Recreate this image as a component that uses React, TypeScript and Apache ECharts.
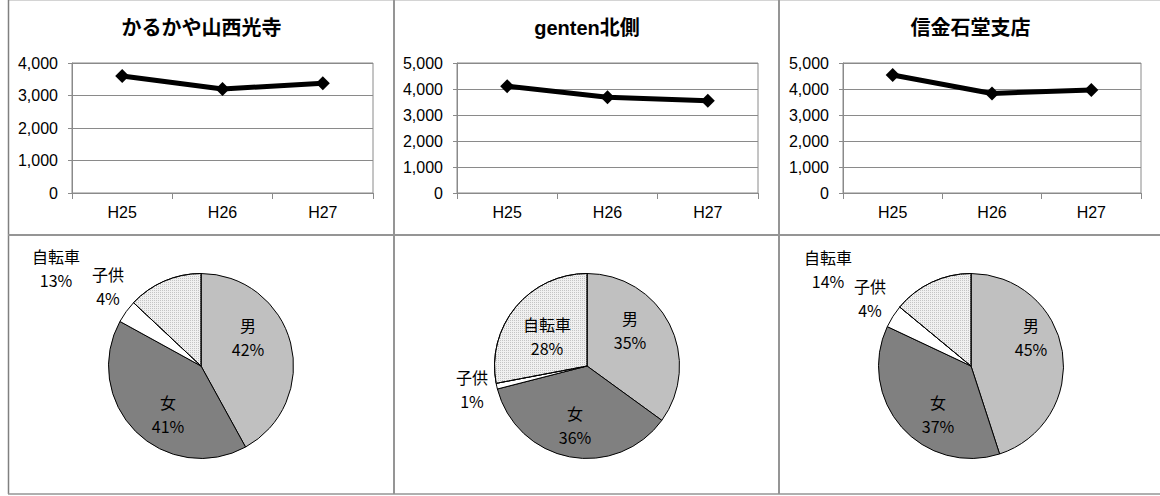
import React, { useEffect, useRef } from "react";
import * as echarts from "echarts";

const years = ["H25", "H26", "H27"];
const titles = ["かるかや山西光寺", "genten北側", "信金石堂支店"];
const countsA = [3600, 3200, 3380];
const countsB = [4110, 3680, 3550];
const countsC = [4540, 3830, 3960];
const yMax = [4000, 5000, 5000];
const pieNames = ["男", "女", "子供", "自転車"];
const shareA = [42, 41, 4, 13];
const shareB = [35, 36, 1, 28];
const shareC = [45, 37, 4, 14];

// layout (pixels)
const grids = [
  { left: 72, top: 63, width: 301, height: 130 },
  { left: 457, top: 63, width: 301, height: 130 },
  { left: 843, top: 63, width: 298, height: 130 },
];
const titleX = [201.5, 587, 970.5];
const pieCenters = [
  [201, 366],
  [587, 366],
  [971, 366],
];
const pieRadius = 92.5;
const labelOffsets = [
  [[47, -29], [-33, 48], [-93, -80], [-145, -98]],
  [[43, -36], [-12, 59], [-115, 23], [-40, -30]],
  [[60, -29], [-33, 48], [-101, -68], [-143, -97]],
];

const LATIN = "'Liberation Sans', Arial, 'Noto Sans CJK JP', sans-serif";
const CJK = "'Noto Sans CJK JP', sans-serif";
const GRID_GREY = "#8a8a8a";
const sliceColors = ["#c0c0c0", "#808080", "#ffffff", "#f0f0f0"];

export default function App() {
  const ref = useRef<HTMLDivElement>(null);
  useEffect(() => {
    if (!ref.current) return;
    const chart = echarts.init(ref.current, undefined, { renderer: "svg" });
    const counts = [countsA, countsB, countsC];
    const shares = [shareA, shareB, shareC];

    const xAxis = grids.map((_, i) => ({
      type: "category",
      gridIndex: i,
      data: years,
      boundaryGap: true,
      axisLine: { show: true, lineStyle: { color: GRID_GREY, width: 1 } },
      axisTick: { show: true, length: 6, lineStyle: { color: GRID_GREY } },
      axisLabel: { color: "#000", fontSize: 16, fontFamily: LATIN, margin: 11 },
    }));
    const yAxis = grids.map((_, i) => ({
      type: "value",
      gridIndex: i,
      min: 0,
      max: yMax[i],
      interval: 1000,
      axisLine: { show: true, lineStyle: { color: GRID_GREY, width: 1 } },
      axisTick: { show: true, length: 4, lineStyle: { color: GRID_GREY } },
      splitLine: { show: true, lineStyle: { color: GRID_GREY, width: 1 } },
      axisLabel: {
        color: "#000",
        fontSize: 16,
        fontFamily: LATIN,
        margin: 14,
        formatter: (v: number) => v.toLocaleString("en-US"),
      },
    }));
    const lineSeries = counts.map((d, i) => ({
      type: "line",
      xAxisIndex: i,
      yAxisIndex: i,
      data: d,
      symbol: "diamond",
      symbolSize: 14,
      lineStyle: { color: "#000", width: 5 },
      itemStyle: { color: "#000" },
      silent: true,
    }));
    const pieSeries = shares.map((d, i) => ({
      type: "pie",
      center: pieCenters[i],
      radius: pieRadius,
      startAngle: 90,
      clockwise: true,
      silent: true,
      data: d.map((v, k) => ({
        name: pieNames[k],
        value: v,
        itemStyle: {
          color: sliceColors[k],
          borderColor: "#000",
          borderWidth: 1,
          decal:
            k === 3
              ? {
                  symbol: "rect",
                  symbolSize: 1,
                  dashArrayX: [1, 1],
                  dashArrayY: [1, 1],
                  rotation: 0,
                  color: "#c4c4c4",
                }
              : "none",
        },
      })),
      label: {
        show: true,
        position: "inside",
        color: "#000",
        fontSize: 16,
        fontFamily: CJK,
        lineHeight: 24,
        align: "center",
        verticalAlign: "middle",
        formatter: (p: any) => `${p.name}\n${Math.round(p.percent)}%`,
      },
      labelLine: { show: false },
      labelLayout: (p: any) => {
        const off = labelOffsets[i][p.dataIndex];
        return {
          x: pieCenters[i][0] + off[0],
          y: pieCenters[i][1] + off[1],
          align: "center",
          verticalAlign: "middle",
          hideOverlap: false,
        };
      },
    }));

    const borderStyle = { stroke: "#959595", lineWidth: 2 };
    const graphic: any[] = [
      { type: "line", shape: { x1: 8, y1: 0.5, x2: 1160, y2: 0.5 }, style: { stroke: "#d4d4d4", lineWidth: 1 }, silent: true },
      { type: "line", shape: { x1: 8.5, y1: 0, x2: 8.5, y2: 494 }, style: { stroke: "#808080", lineWidth: 1.5 }, silent: true },
      { type: "line", shape: { x1: 394, y1: 0, x2: 394, y2: 494 }, style: borderStyle, silent: true },
      { type: "line", shape: { x1: 779, y1: 0, x2: 779, y2: 494 }, style: borderStyle, silent: true },
      { type: "line", shape: { x1: 8, y1: 235, x2: 1160, y2: 235 }, style: borderStyle, silent: true },
      { type: "line", shape: { x1: 8, y1: 494, x2: 1160, y2: 494 }, style: { stroke: "#959595", lineWidth: 1.5 }, silent: true },
      ...titles.map((t, i) => ({
        type: "text",
        x: titleX[i],
        y: 28,
        silent: true,
        style: {
          text: t,
          font: `bold 20px ${LATIN}`,
          fill: "#000",
          align: "center",
          verticalAlign: "middle",
          textAlign: "center",
          textVerticalAlign: "middle",
        },
      })),
    ];

    chart.setOption({
      animation: false,
      backgroundColor: "#ffffff",
      grid: grids.map((g) => ({ ...g, show: true, borderColor: GRID_GREY, borderWidth: 1 })),
      xAxis,
      yAxis,
      series: [...lineSeries, ...pieSeries],
      graphic,
    } as any);
    return () => chart.dispose();
  }, []);
  return (
    <div
      ref={ref}
      style={{ position: "absolute", left: 0, top: 0, width: 1160, height: 496 }}
    />
  );
}
